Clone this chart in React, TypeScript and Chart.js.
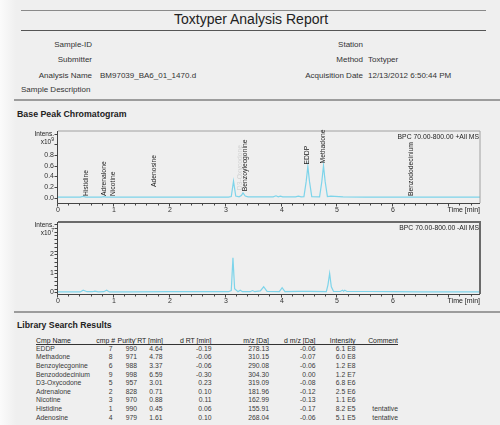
import React, { useEffect, useRef } from "react";
import { Chart, registerables } from "chart.js";

Chart.register(...registerables);

const FONT = "'Liberation Sans', Arial, Helvetica, sans-serif";

// ---------- report header ----------
const reportTitle = "Toxtyper Analysis Report";
const infoLeftLabels = ["Sample-ID", "Submitter", "Analysis Name"];
const infoLeftValues = ["", "", "BM97039_BA6_01_1470.d"];
const infoRightLabels = ["Station", "Method", "Acquisition Date"];
const infoRightValues = ["", "Toxtyper", "12/13/2012 6:50:44 PM"];
const infoRowY = [45, 60, 76];

// ---------- chromatogram: BPC +All MS (x10^9) ----------
const posTime = [0, 0.4, 0.45, 0.5, 0.78, 0.82, 0.86, 1.2, 1.6, 2.0, 2.5, 3.05, 3.1, 3.14, 3.18, 3.24, 3.28, 3.31, 3.35, 3.4, 3.85, 3.9, 3.94, 3.98, 4.02, 4.06, 4.25, 4.3, 4.35, 4.4, 4.44, 4.47, 4.5, 4.54, 4.68, 4.72, 4.75, 4.78, 4.82, 4.88, 5.1, 5.5, 6.0, 6.5, 7.0, 7.55];
const posIntensity = [0.01, 0.01, 0.025, 0.01, 0.01, 0.02, 0.01, 0.01, 0.012, 0.01, 0.01, 0.01, 0.02, 0.31, 0.03, 0.015, 0.04, 0.09, 0.03, 0.015, 0.015, 0.035, 0.015, 0.03, 0.015, 0.015, 0.015, 0.03, 0.015, 0.02, 0.3, 0.585, 0.3, 0.02, 0.015, 0.3, 0.6, 0.3, 0.02, 0.03, 0.015, 0.012, 0.01, 0.01, 0.01, 0.01];
const posTitle = "BPC 70.00-800.00 +All MS";
const posYTickValues = [0, 0.2, 0.4, 0.6, 0.8, 1.0, 1.2];
const posYTickLabels = ["0.0", "0.2", "0.4", "0.6", "0.8", "", ""];
const posExponent = "9";
const peakNames = ["Histidine", "Adrenalone", "Nicotine", "Adenosine", "D3-Oxycodone", "Benzoylecgonine", "EDDP", "Methadone", "Benzododecinium"];
const peakTimes = [0.5, 0.82, 0.98, 1.72, 3.25, 3.34, 4.45, 4.74, 6.32];
const peakAnchors = [0.03, 0.03, 0.03, 0.2, 0.14, 0.12, 0.62, 0.64, 0.03];
const peakGhost = [false, false, false, false, true, false, false, false, false];

// ---------- chromatogram: BPC -All MS (x10^7) ----------
const negTime = [0, 0.4, 0.45, 0.52, 0.62, 0.66, 0.72, 0.82, 0.87, 0.92, 1.3, 2.0, 2.5, 3.05, 3.1, 3.13, 3.16, 3.22, 3.26, 3.3, 3.44, 3.48, 3.52, 3.62, 3.68, 3.74, 3.96, 4.01, 4.06, 4.3, 4.5, 4.8, 4.83, 4.86, 4.89, 4.93, 5.05, 5.09, 5.11, 5.13, 5.17, 5.6, 6.0, 6.5, 7.0, 7.55];
const negIntensity = [0.03, 0.03, 0.12, 0.04, 0.04, 0.07, 0.03, 0.04, 0.12, 0.03, 0.03, 0.04, 0.04, 0.04, 0.1, 1.82, 0.2, 0.04, 0.12, 0.04, 0.04, 0.1, 0.04, 0.08, 0.3, 0.06, 0.05, 0.25, 0.05, 0.06, 0.06, 0.05, 0.4, 1.0, 0.3, 0.05, 0.05, 0.12, 0.06, 0.12, 0.05, 0.05, 0.04, 0.03, 0.03, 0.03];
const negTitle = "BPC 70.00-800.00 -All MS";
const negYMajor = [0, 1, 2];
const negYMinorStep = 0.2;
const negYTop = 3.6;
const negExponent = "7";

// ---------- x axis ----------
const xMajorLabels = [0, 1, 2, 3, 4, 5, 6];
const xMinorStep = 0.2;
const xMinorTop = 7.4;
const xMax = 7.55;
const xLabel = "Time [min]";

// ---------- library search table ----------
const tableHeaders = ["Cmp Name", "cmp #", "Purity'", "RT [min]", "d RT [min]", "m/z [Da]", "d m/z [Da]", "Intensity", "Comment"];
const cmpNames = ["EDDP", "Methadone", "Benzoylecgonine", "Benzododecinium", "D3-Oxycodone", "Adrenalone", "Nicotine", "Histidine", "Adenosine"];
const cmpNums = ["7", "8", "6", "9", "5", "2", "3", "1", "4"];
const purities = ["990", "971", "988", "998", "957", "828", "970", "990", "979"];
const rts = ["4.64", "4.78", "3.37", "6.59", "3.01", "0.71", "0.88", "0.45", "1.61"];
const dRts = ["-0.19", "-0.06", "-0.06", "-0.30", "0.23", "0.10", "0.11", "0.06", "0.10"];
const mzs = ["278.13", "310.15", "290.08", "304.30", "319.09", "181.96", "162.99", "155.91", "268.04"];
const dMzs = ["-0.06", "-0.07", "-0.06", "0.00", "-0.08", "-0.12", "-0.13", "-0.17", "-0.06"];
const intensities = ["6.1 E8", "6.0 E8", "1.2 E8", "1.2 E7", "6.8 E6", "2.5 E6", "1.1 E6", "8.2 E5", "5.1 E5"];
const comments = ["", "", "", "", "", "", "", "tentative", "tentative"];

// header right edges (first column left-aligned) and value right edges
const headX = [36, 115, 136.5, 163, 211.5, 269, 315.5, 355.5, 398];
const cellX = [36, 112.5, 137, 162.5, 211.5, 269, 315.5, 355.5, 398];

type TProps = { x: number; y: number; children?: React.ReactNode; align?: "left" | "right" | "center"; size?: number; weight?: string | number; color?: string };
function T({ x, y, children, align = "left", size = 8, weight = "normal", color = "#333" }: TProps) {
  const tx = align === "left" ? "0" : align === "right" ? "-100%" : "-50%";
  return (
    <div style={{ position: "absolute", left: x, top: y, transform: `translate(${tx}, -50%)`, fontSize: size, fontWeight: weight as any, color, whiteSpace: "nowrap", lineHeight: 1, fontFamily: FONT }}>
      {children}
    </div>
  );
}

function Rule({ x1, x2, y, w = 1, color = "#666" }: { x1: number; x2: number; y: number; w?: number; color?: string }) {
  return <div style={{ position: "absolute", left: x1, top: y - w / 2, width: x2 - x1, height: w, background: color }} />;
}

type ChromProps = {
  top: number;
  times: number[];
  values: number[];
  yMin: number;
  yMax: number;
  yTickValues: number[];
  yTickLabel: (v: number, i: number) => string;
  exponent: string;
  title: string;
  frameColor: string;
  frameWidth: number;
  labels?: { name: string; t: number; y: number; ghost: boolean }[];
};

function Chromatogram(p: ChromProps) {
  const ref = useRef<HTMLCanvasElement | null>(null);
  useEffect(() => {
    if (!ref.current) return;
    const xTicks: number[] = [];
    for (let k = 0; k * xMinorStep <= xMinorTop + 1e-6; k++) xTicks.push(Math.round(k * xMinorStep * 100) / 100);
    const decor = {
      id: "decor",
      afterDraw(chart: any) {
        const { ctx, chartArea: a } = chart;
        const xs = chart.scales.x;
        const ys = chart.scales.y;
        ctx.save();
        // frame top & right
        ctx.strokeStyle = p.frameColor;
        ctx.lineWidth = p.frameWidth;
        ctx.beginPath();
        ctx.moveTo(a.left, a.top);
        ctx.lineTo(a.right, a.top);
        ctx.lineTo(a.right, a.bottom);
        ctx.stroke();
        // axes lines
        ctx.strokeStyle = "#444";
        ctx.lineWidth = 1;
        ctx.beginPath();
        ctx.moveTo(a.left - 0.5, a.top);
        ctx.lineTo(a.left - 0.5, a.bottom + 0.5);
        ctx.lineTo(a.right, a.bottom + 0.5);
        ctx.stroke();
        // x ticks + labels
        ctx.fillStyle = "#333";
        ctx.font = `7px ${FONT}`;
        ctx.textAlign = "center";
        ctx.textBaseline = "top";
        ctx.beginPath();
        for (const v of xTicks) {
          const px = Math.round(xs.getPixelForValue(v)) - 0.5;
          const isMajor = Math.abs(v - Math.round(v)) < 1e-6;
          ctx.moveTo(px, a.bottom + 0.5);
          ctx.lineTo(px, a.bottom + (isMajor ? 3.5 : 2.5));
          if (isMajor && xMajorLabels.includes(Math.round(v))) ctx.fillText(String(Math.round(v)), px + 0.5, a.bottom + 4);
        }
        ctx.stroke();
        // y ticks + labels
        ctx.textAlign = "right";
        ctx.textBaseline = "middle";
        ctx.beginPath();
        p.yTickValues.forEach((v, i) => {
          const py = Math.round(ys.getPixelForValue(v)) + 0.5;
          ctx.moveTo(a.left - 3.5, py);
          ctx.lineTo(a.left - 0.5, py);
          const lab = p.yTickLabel(v, i);
          if (lab) ctx.fillText(lab, a.left - 4, py);
        });
        ctx.stroke();
        // title
        ctx.fillStyle = "#222";
        ctx.font = `6.8px ${FONT}`;
        ctx.textAlign = "right";
        ctx.textBaseline = "top";
        ctx.fillText(p.title, a.right - 1, a.top + 3);
        // time label
        ctx.font = `7px ${FONT}`;
        ctx.fillText(xLabel, a.right, a.bottom + 4);
        // intens / exponent
        ctx.font = `6.5px ${FONT}`;
        ctx.textBaseline = "middle";
        ctx.fillText("Intens.", a.left - 4, a.top + 3);
        ctx.font = `5px ${FONT}`;
        const expW = ctx.measureText(p.exponent).width;
        ctx.fillText(p.exponent, a.left - 4, a.top + 9);
        ctx.font = `6.5px ${FONT}`;
        ctx.fillText("x10", a.left - 4 - expW, a.top + 11);
        // peak labels
        if (p.labels) {
          ctx.font = `6.8px ${FONT}`;
          ctx.textAlign = "left";
          ctx.textBaseline = "middle";
          for (const l of p.labels) {
            ctx.save();
            ctx.translate(xs.getPixelForValue(l.t), ys.getPixelForValue(l.y));
            ctx.rotate(-Math.PI / 2);
            ctx.fillStyle = l.ghost ? "#d2d2d2" : "#222";
            ctx.fillText(l.name, 0, 0);
            ctx.restore();
          }
        }
        ctx.restore();
      },
    };
    const chart = new Chart(ref.current, {
      type: "line",
      data: {
        datasets: [
          {
            data: p.times.map((t, i) => ({ x: t, y: p.values[i] })),
            borderColor: "#7dd4ea",
            borderWidth: 1.2,
            pointRadius: 0,
            tension: 0,
            fill: false,
          },
        ],
      },
      options: {
        responsive: true,
        maintainAspectRatio: false,
        animation: false,
        layout: { padding: { top: 3, right: 8, left: 40, bottom: 12 } },
        plugins: { legend: { display: false }, tooltip: { enabled: false } },
        scales: {
          x: { type: "linear", min: 0, max: xMax, display: false },
          y: { type: "linear", min: p.yMin, max: p.yMax, display: false },
        },
      },
      plugins: [decor],
    } as any);
    return () => chart.destroy();
  }, []);
  return (
    <div style={{ position: "absolute", left: 18, top: p.top, width: 470, height: 87 }}>
      <canvas ref={ref} />
    </div>
  );
}

export default function App() {
  const negTicks: number[] = [];
  for (let k = 0; k * negYMinorStep <= negYTop + 1e-6; k++) negTicks.push(Math.round(k * negYMinorStep * 100) / 100);
  const peakLabels = peakNames.map((name, i) => ({ name, t: peakTimes[i], y: peakAnchors[i], ghost: peakGhost[i] }));

  return (
    <div style={{ position: "fixed", left: 0, top: 0, width: 500, height: 425, overflow: "hidden", background: "#efefef", fontFamily: FONT }}>
      <div style={{ position: "absolute", left: 0, top: 0, width: 16, height: 425, background: "linear-gradient(to right, #fbfbfb, #efefef)" }} />

      {/* header */}
      <Rule x1={21} x2={486} y={10} w={1} color="#8a8a8a" />
      <T x={251} y={19} align="center" size={14} color="#222">{reportTitle}</T>
      <Rule x1={21} x2={486} y={30} w={1} color="#555" />
      {infoLeftLabels.map((l, i) => (
        <T key={"ll" + i} x={92} y={infoRowY[i]} align="right">{l}</T>
      ))}
      {infoLeftValues.map((v, i) => (
        <T key={"lv" + i} x={100} y={infoRowY[i]}>{v}</T>
      ))}
      {infoRightLabels.map((l, i) => (
        <T key={"rl" + i} x={363} y={infoRowY[i]} align="right">{l}</T>
      ))}
      {infoRightValues.map((v, i) => (
        <T key={"rv" + i} x={368} y={infoRowY[i]}>{v}</T>
      ))}
      <T x={21} y={90}>Sample Description</T>
      <Rule x1={14} x2={500} y={100} w={2} color="#9c9c9c" />

      {/* chromatograms */}
      <T x={17} y={114} size={8.8} weight="bold" color="#222">Base Peak Chromatogram</T>
      <Chromatogram
        top={128}
        times={posTime}
        values={posIntensity}
        yMin={-0.1}
        yMax={1.25}
        yTickValues={posYTickValues}
        yTickLabel={(v, i) => posYTickLabels[i] ?? ""}
        exponent={posExponent}
        title={posTitle}
        frameColor="#a0a0a0"
        frameWidth={1}
        labels={peakLabels}
      />
      <Chromatogram
        top={219}
        times={negTime}
        values={negIntensity}
        yMin={-0.08}
        yMax={3.7}
        yTickValues={negTicks}
        yTickLabel={(v) => (negYMajor.includes(v) ? String(v) : "")}
        exponent={negExponent}
        title={negTitle}
        frameColor="#6a6a6a"
        frameWidth={2}
      />
      <Rule x1={14} x2={500} y={312} w={2} color="#9c9c9c" />

      {/* library search results */}
      <T x={17} y={325} size={8.7} weight="bold" color="#222">Library Search Results</T>
      {tableHeaders.map((h, i) => (
        <T key={"h" + i} x={headX[i]} y={340.5} align={i === 0 ? "left" : "right"} size={6.9} color="#222">{h}</T>
      ))}
      <Rule x1={36} x2={398} y={344.5} w={1} color="#333" />
      {cmpNames.map((name, r) => {
        const y = 348.7 + r * 8.6;
        const cells = [name, cmpNums[r], purities[r], rts[r], dRts[r], mzs[r], dMzs[r], intensities[r], comments[r]];
        return cells.map((c, i) => (
          <T key={"c" + r + "_" + i} x={cellX[i]} y={y} align={i === 0 ? "left" : "right"} size={6.8} color="#3a3a3a">{c}</T>
        ));
      })}
    </div>
  );
}
